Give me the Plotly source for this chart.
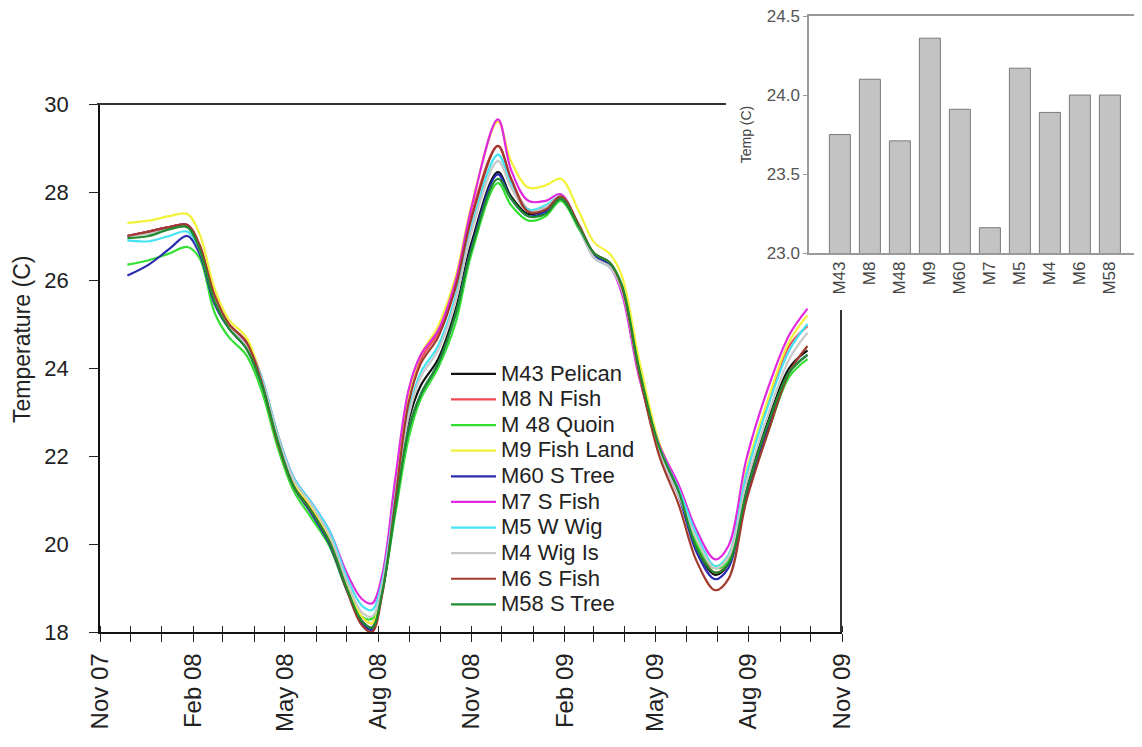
import plotly.graph_objects as go

# ---------------- data ----------------
dates = ["2007-11-28", "2007-12-19", "2008-01-08", "2008-01-26", "2008-02-07", "2008-02-22",
         "2008-03-07", "2008-03-24", "2008-04-08", "2008-04-24", "2008-05-10", "2008-05-27",
         "2008-06-14", "2008-07-02", "2008-07-16", "2008-07-26", "2008-08-05", "2008-08-18",
         "2008-08-31", "2008-09-12", "2008-09-29", "2008-10-16", "2008-11-01", "2008-11-27",
         "2008-12-10", "2008-12-27", "2009-01-13", "2009-01-28", "2009-02-15", "2009-03-02",
         "2009-03-17", "2009-03-29", "2009-04-15", "2009-05-05", "2009-05-24", "2009-06-11",
         "2009-06-29", "2009-07-12", "2009-07-30", "2009-08-21", "2009-09-10", "2009-09-28"]

m43_pelican = [27.0, 27.1, 27.2, 27.25, 26.7, 25.5, 24.95, 24.5, 23.7, 22.4,
               21.35, 20.8, 20.1, 18.95, 18.25, 18.1, 19.0, 21.0, 22.8, 23.6,
               24.2, 25.3, 26.85, 28.45, 27.9, 27.5, 27.6, 27.9, 27.2, 26.6,
               26.4, 25.85, 24.0, 22.2, 21.2, 19.9, 19.3, 19.55, 21.3, 22.85, 24.0, 24.4]
m8_n_fish = [27.0, 27.1, 27.2, 27.25, 26.8, 25.6, 25.0, 24.6, 23.75, 22.4,
             21.4, 20.85, 20.15, 19.05, 18.35, 18.2, 19.1, 21.3, 23.4, 24.2,
             24.8, 25.9, 27.5, 29.05, 28.3, 27.6, 27.65, 27.9, 27.2, 26.55,
             26.35, 25.85, 23.9, 22.1, 21.1, 20.0, 19.35, 19.6, 21.6, 23.3, 24.5, 24.95]
m48_quoin = [26.35, 26.45, 26.6, 26.75, 26.5, 25.25, 24.7, 24.3, 23.5, 22.2,
             21.2, 20.6, 19.95, 18.9, 18.35, 18.3, 18.95, 20.7, 22.4, 23.3,
             24.0, 25.0, 26.6, 28.2, 27.7, 27.35, 27.45, 27.8, 27.15, 26.55,
             26.35, 25.8, 23.95, 22.2, 21.2, 20.0, 19.45, 19.6, 21.1, 22.6, 23.8, 24.2]
m9_fish_land = [27.3, 27.35, 27.45, 27.5, 27.05, 25.8, 25.1, 24.7, 23.8, 22.5,
                21.4, 20.85, 20.15, 19.05, 18.35, 18.2, 19.0, 21.3, 23.4, 24.3,
                24.95, 26.05, 27.7, 29.6, 28.7, 28.1, 28.15, 28.3, 27.55, 26.85,
                26.6, 26.1, 24.2, 22.3, 21.3, 20.1, 19.5, 19.75, 21.7, 23.35, 24.6, 25.2]
m60_s_tree = [26.1, 26.35, 26.7, 27.0, 26.6, 25.45, 24.9, 24.45, 23.65, 22.35,
              21.3, 20.7, 20.0, 18.9, 18.2, 18.05, 18.9, 20.9, 22.6, 23.4,
              24.1, 25.2, 26.75, 28.4, 27.85, 27.45, 27.55, 27.85, 27.2, 26.55,
              26.35, 25.8, 23.9, 22.1, 21.1, 19.8, 19.2, 19.45, 21.1, 22.7, 23.9, 24.3]
m7_s_fish = [27.0, 27.1, 27.2, 27.25, 26.75, 25.55, 24.95, 24.55, 23.8, 22.5,
             21.5, 20.95, 20.3, 19.3, 18.75, 18.65, 19.3, 21.5, 23.5, 24.3,
             24.85, 25.95, 27.65, 29.65, 28.5, 27.8, 27.8, 27.95, 27.2, 26.5,
             26.3, 25.7, 23.8, 22.25, 21.35, 20.3, 19.65, 19.95, 21.95, 23.6, 24.75, 25.35]
m5_w_wig = [26.9, 26.88, 27.0, 27.1, 26.7, 25.55, 24.95, 24.5, 23.8, 22.5,
            21.5, 20.95, 20.3, 19.2, 18.6, 18.5, 19.15, 21.1, 23.0, 23.9,
            24.5, 25.6, 27.2, 28.85, 28.2, 27.6, 27.7, 27.9, 27.2, 26.5,
            26.3, 25.8, 23.9, 22.2, 21.25, 20.2, 19.5, 19.75, 21.6, 23.2, 24.4, 25.0]
m4_wig_is = [27.0, 27.05, 27.15, 27.2, 26.7, 25.55, 24.95, 24.5, 23.75, 22.45,
             21.45, 20.9, 20.2, 19.1, 18.45, 18.35, 19.05, 21.0, 22.9, 23.8,
             24.4, 25.5, 27.1, 28.7, 28.1, 27.55, 27.65, 27.9, 27.2, 26.5,
             26.3, 25.8, 23.9, 22.1, 21.1, 20.1, 19.45, 19.7, 21.4, 23.0, 24.2, 24.8]
m6_s_fish = [27.0, 27.1, 27.2, 27.25, 26.8, 25.65, 25.0, 24.6, 23.7, 22.3,
             21.3, 20.75, 20.05, 18.9, 18.15, 18.0, 18.85, 21.0, 23.2, 24.1,
             24.7, 25.8, 27.4, 29.05, 28.3, 27.55, 27.6, 27.9, 27.25, 26.6,
             26.4, 25.85, 23.9, 22.0, 20.9, 19.6, 18.95, 19.2, 21.0, 22.6, 23.9, 24.5]
m58_s_tree = [26.95, 27.0, 27.15, 27.2, 26.7, 25.5, 24.9, 24.45, 23.65, 22.35,
              21.3, 20.75, 20.05, 18.95, 18.25, 18.1, 18.9, 20.8, 22.6, 23.4,
              24.1, 25.2, 26.7, 28.3, 27.85, 27.45, 27.5, 27.85, 27.2, 26.6,
              26.4, 25.9, 24.0, 22.2, 21.2, 19.9, 19.35, 19.55, 21.2, 22.8, 23.9, 24.3]

series_names = ["M43 Pelican", "M8 N Fish", "M 48 Quoin", "M9 Fish Land", "M60 S Tree",
                "M7 S Fish", "M5 W Wig", "M4 Wig Is", "M6 S Fish", "M58 S Tree"]
series_values = [m43_pelican, m8_n_fish, m48_quoin, m9_fish_land, m60_s_tree,
                 m7_s_fish, m5_w_wig, m4_wig_is, m6_s_fish, m58_s_tree]

month_ticks = ["2007-11-01", "2007-12-01", "2008-01-01", "2008-02-01", "2008-03-01",
               "2008-04-01", "2008-05-01", "2008-06-01", "2008-07-01", "2008-08-01",
               "2008-09-01", "2008-10-01", "2008-11-01", "2008-12-01", "2009-01-01",
               "2009-02-01", "2009-03-01", "2009-04-01", "2009-05-01", "2009-06-01",
               "2009-07-01", "2009-08-01", "2009-09-01", "2009-10-01", "2009-11-01"]
month_labels = ["Nov 07", "", "", "Feb 08", "", "", "May 08", "", "", "Aug 08", "", "",
                "Nov 08", "", "", "Feb 09", "", "", "May 09", "", "", "Aug 09", "", "", "Nov 09"]

inset_sites = ["M43", "M8", "M48", "M9", "M60", "M7", "M5", "M4", "M6", "M58"]
inset_means = [23.75, 24.10, 23.71, 24.36, 23.91, 23.16, 24.17, 23.89, 24.00, 24.00]
inset_ticks = [23.0, 23.5, 24.0, 24.5]
inset_tick_labels = ["23.0", "23.5", "24.0", "24.5"]

# ---------------- style ----------------
colors = ["#111111", "#F04a55", "#33E033", "#F2F23A", "#2A2AB0",
          "#E028E0", "#44E2F2", "#C8C8C8", "#A03A2C", "#1F8C30"]
FONT = "Arial, Liberation Sans, Helvetica, sans-serif"
W, H = 1142, 747
OFF = 8  # page body margin of the html page


def px(x):
    return (x - OFF) / W


def py(y):
    return (H - (y - OFF)) / H


fig = go.Figure()
for i, (name, vals) in enumerate(zip(series_names, series_values)):
    fig.add_trace(go.Scatter(
        x=dates, y=vals, mode="lines", line=dict(color=colors[i], width=2.2, shape="spline"),
        name='<span style="font-size:22px">' + name + '</span>',
        legendgroup="g%d" % i, xaxis="x", yaxis="y"))

fig.add_trace(go.Bar(
    x=inset_sites, y=inset_means, xaxis="x2", yaxis="y2", showlegend=False,
    marker=dict(color="#C3C3C3", line=dict(color="#7A7A7A", width=1)), width=0.7))

fig.update_layout(
    width=W, height=H,
    margin=dict(l=0, r=0, t=0, b=0, autoexpand=False),
    paper_bgcolor="white", plot_bgcolor="rgba(0,0,0,0)",
    font=dict(family=FONT, color="#222222"),
    showlegend=True,
    legend=dict(x=px(446), y=py(356), xanchor="left", yanchor="top",
                bgcolor="rgba(0,0,0,0)", borderwidth=0, itemwidth=45,
                font=dict(size=17.4, family=FONT, color="#222222"), tracegroupgap=0),
    xaxis=dict(domain=[px(100), px(842)], anchor="y", type="date",
               range=["2007-11-01", "2009-11-01"],
               tickmode="array", tickvals=month_ticks, ticktext=month_labels,
               tickangle=-90, ticks="outside", ticklen=8, tickwidth=1, tickcolor="#222",
               minor=dict(ticks="inside", ticklen=6, dtick="M1", tick0="2007-11-01",
                          tickcolor="#222", showgrid=False),
               showline=True, linecolor="#111", linewidth=1.5, showgrid=False, zeroline=False,
               automargin=False, ticklabelstandoff=2, ticklabeloverflow="allow",
               tickfont=dict(size=24, family=FONT, color="#222")),
    yaxis=dict(domain=[py(632), py(104)], anchor="x", range=[18, 30], dtick=2,
               ticks="outside", ticklen=9, tickcolor="#222", automargin=False,
               ticklabelstandoff=16, ticklabeloverflow="allow",
               showline=True, linecolor="#111", linewidth=1.5, showgrid=False, zeroline=False,
               tickfont=dict(size=22, family=FONT, color="#222")),
    xaxis2=dict(domain=[px(809), px(1139)], anchor="y2", type="category",
                range=[-1.03, 9.97], tickangle=-90, ticks="", automargin=False,
                showline=True, mirror=True, linecolor="#9A9A9A", linewidth=1.5,
                showgrid=False, tickfont=dict(size=17, family=FONT, color="#444")),
    yaxis2=dict(domain=[py(253), py(16)], anchor="x2", range=[23, 24.5005],
                tickmode="array", tickvals=inset_ticks, ticktext=inset_tick_labels,
                ticks="outside", ticklen=4, tickcolor="#9A9A9A", ticklabeloverflow="allow",
                showline=True, mirror=True, linecolor="#9A9A9A", linewidth=1.5,
                showgrid=False, zeroline=False, automargin=False,
                tickfont=dict(size=17, family=FONT, color="#555"),
                title=dict(text="Temp (C)", font=dict(size=14, family=FONT, color="#444"),
                           standoff=12)),
    annotations=[dict(text="Temperature (C)", textangle=-90, xref="paper", yref="paper",
                      x=px(22), y=py(340), xanchor="center", yanchor="middle",
                      showarrow=False, font=dict(size=23, family=FONT, color="#222"))],
    shapes=[
        dict(type="line", xref="paper", yref="paper", x0=px(97), x1=px(726),
             y0=py(104), y1=py(104), line=dict(color="#333", width=2)),
        dict(type="line", xref="paper", yref="paper", x0=px(841), x1=px(841),
             y0=py(632), y1=py(310), line=dict(color="#333", width=2)),
    ],
)

fig.write_html("out.html")
